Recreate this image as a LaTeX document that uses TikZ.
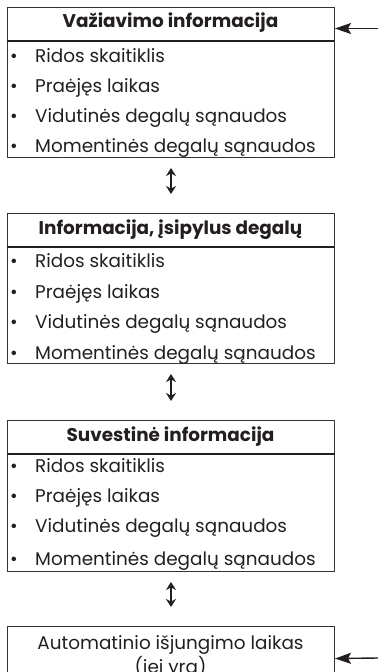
\documentclass[tikz,border=0pt]{standalone}
\usepackage{fontspec}
\setmainfont{Poppins}
\usetikzlibrary{arrows.meta}
\definecolor{ink}{HTML}{231F20}
\definecolor{frame}{HTML}{333333}
\newcommand{\bul}{\makebox[25pt][l]{•}}
\begin{document}
\begin{tikzpicture}[x=1pt,y=-1pt,
  box/.style={draw=frame, line width=1pt, minimum width=327pt, anchor=north west, inner sep=0pt},
  sepline/.style={draw=ink, line width=2pt},
  head/.style={font=\fontsize{18.4}{22}\selectfont\bfseries, text=ink, inner sep=0pt, anchor=base},
  item/.style={font=\fontsize{18.4}{22}\selectfont, text=ink, anchor=base west, inner sep=0pt},
  plain/.style={font=\fontsize{18.4}{22}\selectfont, text=ink, inner sep=0pt, anchor=base},
  dbl/.style={ink, line width=1.8pt, {Stealth[length=8pt,width=10pt]}-{Stealth[length=8pt,width=10pt]}, shorten <=10pt, shorten >=19pt},
  inarrow/.style={ink, line width=1.4pt, -{Stealth[length=16pt,width=11pt,inset=3pt]}}
]
\useasboundingbox (0,0) rectangle (378,672);
\clip (0,0) rectangle (378,672);

% Box 1
\node[box, minimum height=150pt] (b1) at (7,7) {};
\draw[sepline] ([yshift=-33.5pt]b1.north west) -- ([yshift=-33.5pt]b1.north east);
\node[head] (h1) at (170.5,27.5) {Važiavimo informacija};
\node[item] (b1i1) at (10,62) {\bul Ridos skaitiklis};
\node[item] (b1i2) at (10,92) {\bul Praėjęs laikas};
\node[item] (b1i3) at (10,122) {\bul Vidutinės degalų sąnaudos};
\node[item] (b1i4) at (10,152) {\bul Momentinės degalų sąnaudos};

% Box 2
\node[box, minimum height=150pt] (b2) at (7,213) {};
\draw[sepline] ([yshift=-33.5pt]b2.north west) -- ([yshift=-33.5pt]b2.north east);
\node[head] (h2) at (170.5,234) {Informacija, įsipylus degalų};
\node[item] (b2i1) at (10,267) {\bul Ridos skaitiklis};
\node[item] (b2i2) at (10,298) {\bul Praėjęs laikas};
\node[item] (b2i3) at (10,328) {\bul Vidutinės degalų sąnaudos};
\node[item] (b2i4) at (10,359.5) {\bul Momentinės degalų sąnaudos};

% Box 3
\node[box, minimum height=151pt] (b3) at (7,420) {};
\draw[sepline] ([yshift=-33.5pt]b3.north west) -- ([yshift=-33.5pt]b3.north east);
\node[head] (h3) at (170.5,441.5) {Suvestinė informacija};
\node[item] (b3i1) at (10,472.5) {\bul Ridos skaitiklis};
\node[item] (b3i2) at (10,502.5) {\bul Praėjęs laikas};
\node[item] (b3i3) at (10,532.5) {\bul Vidutinės degalų sąnaudos};
\node[item] (b3i4) at (10,565) {\bul Momentinės degalų sąnaudos};

% Box 4
\node[box, minimum height=64pt] (b4) at (7,626) {};
\node[plain] (t4a) at (170.5,649) {Automatinio išjungimo laikas};
\node[plain] (t4b) at (170.5,673) {(jei yra)};

% Connectors
\draw[dbl] (b1.south) -- (b2.north);
\draw[dbl] (b2.south) -- (b3.north);
\draw[dbl] (b3.south) -- (b4.north);

\coordinate (in1) at (378,28.5);
\coordinate (in4) at (378,658);
\draw[inarrow] (in1) -- (in1 -| b1.east);
\draw[inarrow] (in4) -- (b4.east);
\end{tikzpicture}
\end{document}
